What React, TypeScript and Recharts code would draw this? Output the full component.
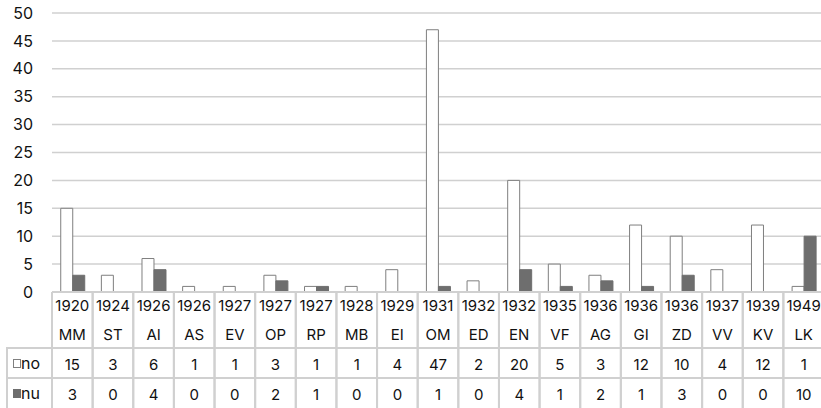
import { BarChart, Bar, XAxis, YAxis, CartesianGrid } from 'recharts';

const years = ['1920', '1924', '1926', '1926', '1927', '1927', '1927', '1928', '1929', '1931', '1932', '1932', '1935', '1936', '1936', '1936', '1937', '1939', '1949'];
const codes = ['MM', 'ST', 'AI', 'AS', 'EV', 'OP', 'RP', 'MB', 'EI', 'OM', 'ED', 'EN', 'VF', 'AG', 'GI', 'ZD', 'VV', 'KV', 'LK'];
const noValues = [15, 3, 6, 1, 1, 3, 1, 1, 4, 47, 2, 20, 5, 3, 12, 10, 4, 12, 1];
const nuValues = [3, 0, 4, 0, 0, 2, 1, 0, 0, 1, 0, 4, 1, 2, 1, 3, 0, 0, 10];
const yTicks = [0, 5, 10, 15, 20, 25, 30, 35, 40, 45, 50];

const data = years.map((year, i) => ({
  key: `${year}-${codes[i]}`,
  year,
  code: codes[i],
  no: noValues[i],
  nu: nuValues[i],
}));

const CHART_W = 824;
const CHART_H = 408;
const Y_AXIS_W = 52;
const AXIS_Y = 292;
const COL_W = (CHART_W - Y_AXIS_W) / data.length;
const FONT = 'Inter, "Noto Sans", sans-serif';
const LINE = '#d0d0d0';
const NO_STROKE = '#7f7f7f';
const NU_FILL = '#6e6e6e';

// table rows, measured down from the x axis line
const ROW_NO = 56;
const ROW_NU = 86;

const TableTick = (props: any) => {
  const { x, y, index } = props;
  const d = data[index];
  if (!d) return null;
  const left = x - COL_W / 2;
  const right = x + COL_W / 2;
  const textProps = { fontFamily: FONT, fontSize: 15, fill: '#111', textAnchor: 'middle' as const, dominantBaseline: 'central' as const };
  return (
    <g>
      <line x1={left} x2={left} y1={y} y2={CHART_H} stroke={LINE} strokeWidth={2} />
      <line x1={right} x2={right} y1={y} y2={CHART_H} stroke={LINE} strokeWidth={2} />
      <line x1={left} x2={right} y1={y + ROW_NO} y2={y + ROW_NO} stroke={LINE} strokeWidth={2} />
      <line x1={left} x2={right} y1={y + ROW_NU} y2={y + ROW_NU} stroke={LINE} strokeWidth={2} />
      <text x={x} y={y + 13} {...textProps}>{d.year}</text>
      <text x={x} y={y + 42} {...textProps}>{d.code}</text>
      <text x={x} y={y + 72} {...textProps}>{d.no}</text>
      <text x={x} y={y + 102} {...textProps}>{d.nu}</text>
    </g>
  );
};

// row headers of the data table (left of the plot)
const TableLegend = () => (
  <svg width={Y_AXIS_W} height={CHART_H} style={{ position: 'absolute', left: 0, top: 0, pointerEvents: 'none' }}>
    <line x1={7} x2={7} y1={AXIS_Y + ROW_NO - 1} y2={CHART_H} stroke={LINE} strokeWidth={2} />
    <line x1={6} x2={Y_AXIS_W} y1={AXIS_Y + ROW_NO} y2={AXIS_Y + ROW_NO} stroke={LINE} strokeWidth={2} />
    <line x1={6} x2={Y_AXIS_W} y1={AXIS_Y + ROW_NU} y2={AXIS_Y + ROW_NU} stroke={LINE} strokeWidth={2} />
    <rect x={13.5} y={AXIS_Y + 67.5} width={7} height={8} fill="#fff" stroke={NO_STROKE} strokeWidth={1} />
    <text x={21} y={AXIS_Y + 71} fontFamily={FONT} fontSize={16} fill="#111" dominantBaseline="central">no</text>
    <rect x={13} y={AXIS_Y + 97} width={8} height={9} fill={NU_FILL} />
    <text x={21} y={AXIS_Y + 101} fontFamily={FONT} fontSize={16} fill="#111" dominantBaseline="central">nu</text>
  </svg>
);

export default function App() {
  return (
    <div style={{ position: 'absolute', left: 0, top: 0, width: 821, height: 408, overflow: 'hidden', background: '#fff' }}>
      <BarChart
        width={CHART_W}
        height={CHART_H}
        data={data}
        margin={{ top: 13, right: 0, bottom: 0, left: 0 }}
        barCategoryGap="21.5%"
        barGap={0}
      >
        <CartesianGrid vertical={false} stroke={LINE} strokeWidth={1.5} />
        <YAxis
          width={Y_AXIS_W}
          domain={[0, 50]}
          ticks={yTicks}
          interval={0}
          axisLine={false}
          tickLine={false}
          tickSize={0}
          tickMargin={19}
          tick={{ fontFamily: FONT, fontSize: 16, fill: '#111' }}
        />
        <XAxis
          dataKey="key"
          height={CHART_H - AXIS_Y}
          interval={0}
          tickLine={false}
          tickSize={0}
          tickMargin={0}
          axisLine={{ stroke: LINE, strokeWidth: 2 }}
          tick={<TableTick />}
        />
        <Bar dataKey="no" fill="#fff" stroke={NO_STROKE} strokeWidth={1} isAnimationActive={false} />
        <Bar dataKey="nu" fill={NU_FILL} stroke={NU_FILL} strokeWidth={1} isAnimationActive={false} />
      </BarChart>
      <TableLegend />
    </div>
  );
}
